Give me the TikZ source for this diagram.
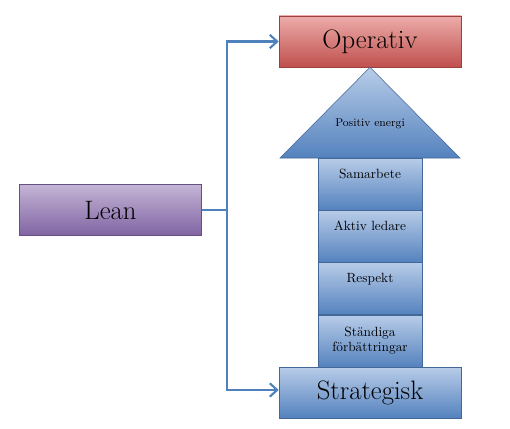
\documentclass[tikz,border=0pt]{standalone}
\usetikzlibrary{arrows.meta,positioning}
\definecolor{redtop}{RGB}{236,172,170}
\definecolor{redbot}{RGB}{192,80,77}
\definecolor{bluetop}{RGB}{184,204,232}
\definecolor{bluebot}{RGB}{84,130,190}
\definecolor{purptop}{RGB}{196,180,214}
\definecolor{purpbot}{RGB}{128,100,162}
\definecolor{linkblue}{RGB}{79,129,189}

\begin{document}
\begin{tikzpicture}[x=0.75pt,y=-0.75pt,
box/.style={draw=#1bot!80!black,line width=0.4pt,top color=#1top,bottom color=#1bot,
minimum width=136.5pt,minimum height=38.25pt,font=\fontsize{20}{24}\selectfont},
seg/.style={draw=bluebot!80!black,line width=0.4pt,top color=bluetop,bottom color=bluebot,
minimum width=78pt,minimum height=39pt,align=center,font=\fontsize{10}{11}\selectfont},
lab/.style={font=\fontsize{10}{11}\selectfont,inner sep=0pt},
conn/.style={draw=linkblue,line width=2.2pt},
arr/.style={conn,-{Straight Barb[length=5.5pt,width=10pt,line width=1.6pt]}}]
\useasboundingbox (0,0) rectangle (510,428);
\node[box=red] (operativ) at (370,41.5) {Operativ};
\node[box=blue] (strategisk) at (370,392.5) {Strategisk};
\node[box=purp] (lean) at (110.5,210) {Lean};
% arrow shaft
\node[seg] (s1) at (370,184) {};
\node[seg] (s2) at (370,236) {};
\node[seg] (s3) at (370,288.5) {};
\node[seg] (s4) at (370,341) {St\"andiga\\f\"orb\"attringar};
\node[lab,below=8pt of s1.north] (samarbete) {Samarbete};
\node[lab,below=8pt of s2.north] (ledare) {Aktiv ledare};
\node[lab,below=8pt of s3.north] (respekt) {Respekt};
% arrow head
\coordinate (tip) at (operativ.south);
\path[draw=bluebot!80!black,line width=0.4pt,top color=bluetop,bottom color=bluebot]
  (280,158) -- (tip) -- (460,158) -- cycle;
\node[lab,font=\fontsize{8.5}{10}\selectfont] (energi) at (370,124) {Positiv energi};
% links
\coordinate (split) at (227,210);
\draw[conn] (lean.east) -- (split);
\draw[arr] (split) |- (operativ.west);
\draw[arr] (split) |- ([yshift=1.9pt]strategisk.west);
\end{tikzpicture}
\end{document}
